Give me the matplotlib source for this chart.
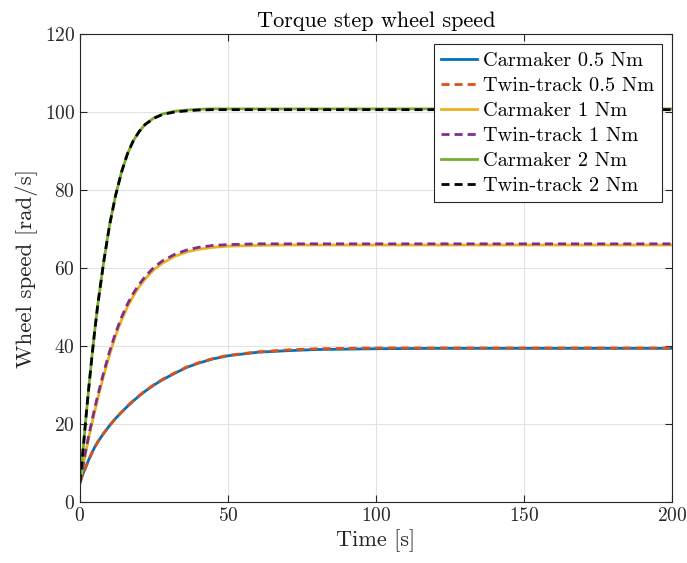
import numpy as np
import matplotlib
matplotlib.use('Agg')
import matplotlib.pyplot as plt

plt.rcParams['font.family'] = ['cmr10', 'DejaVu Serif']
plt.rcParams['mathtext.fontset'] = 'cm'
plt.rcParams['axes.formatter.use_mathtext'] = True

# sample times [s]
t = [0, 1, 2, 3, 4, 5, 6, 8, 10, 12, 14, 16, 18, 20, 22, 25, 28, 32, 36,
     40, 45, 50, 60, 70, 80, 100, 120, 150, 200]

# wheel speed [rad/s]
cm_05 = [5.0, 7.2, 9.1, 10.9, 12.6, 14.1, 15.4, 17.6, 19.6, 21.4, 23.0, 24.5,
         25.9, 27.2, 28.4, 30.0, 31.4, 33.0, 34.5, 35.6, 36.7, 37.5, 38.4,
         38.8, 39.1, 39.3, 39.4, 39.4, 39.4]
tt_05 = [5.0, 7.1, 9.0, 10.8, 12.5, 14.0, 15.4, 17.6, 19.6, 21.4, 23.0, 24.6,
         26.0, 27.3, 28.5, 30.1, 31.5, 33.1, 34.6, 35.7, 36.8, 37.6, 38.5,
         39.0, 39.3, 39.5, 39.5, 39.5, 39.5]
cm_1 = [5.0, 9.0, 13.0, 16.6, 20.0, 23.3, 26.5, 32.4, 37.8, 42.6, 46.6, 50.0,
        52.8, 55.2, 57.2, 59.6, 61.3, 63.0, 64.1, 64.8, 65.3, 65.6, 65.8,
        65.9, 65.9, 65.9, 65.9, 65.9, 65.9]
tt_1 = [5.0, 9.3, 13.4, 17.2, 20.7, 24.1, 27.3, 33.2, 38.6, 43.3, 47.3, 50.7,
        53.5, 55.8, 57.8, 60.2, 61.9, 63.5, 64.6, 65.3, 65.8, 66.0, 66.2,
        66.2, 66.2, 66.2, 66.2, 66.2, 66.2]
cm_2 = [5.0, 13.0, 21.5, 29.5, 37.0, 44.0, 50.5, 61.5, 71.0, 78.5, 84.5, 89.2,
        92.6, 95.0, 96.8, 98.5, 99.5, 100.2, 100.5, 100.7, 100.8, 100.8,
        100.8, 100.8, 100.8, 100.8, 100.8, 100.8, 100.8]
tt_2 = [5.0, 13.0, 21.5, 29.5, 37.0, 44.0, 50.5, 61.5, 71.0, 78.5, 84.5, 89.2,
        92.6, 95.0, 96.8, 98.4, 99.4, 100.0, 100.3, 100.5, 100.6, 100.6,
        100.6, 100.6, 100.6, 100.6, 100.6, 100.6, 100.6]

txt = '#262626'
fig = plt.figure(figsize=(6.87, 5.63), dpi=100)
ax = fig.add_axes([0.1164, 0.1083, 0.8617, 0.8313])

lw = 2.0
dash = (2.9, 1.8)
ax.plot(t, cm_05, color='#0072BD', lw=lw, label='Carmaker 0.5 Nm')
ax.plot(t, tt_05, color='#D95319', lw=lw, dashes=dash, label='Twin-track 0.5 Nm')
ax.plot(t, cm_1, color='#EDB120', lw=lw, label='Carmaker 1 Nm')
ax.plot(t, tt_1, color='#7E2F8E', lw=lw, dashes=dash, label='Twin-track 1 Nm')
ax.plot(t, cm_2, color='#77AC30', lw=lw, label='Carmaker 2 Nm')
ax.plot(t, tt_2, color='k', lw=lw, dashes=dash, label='Twin-track 2 Nm')

ax.set_xlim(0, 200)
ax.set_ylim(0, 120)
ax.set_xticks([0, 50, 100, 150, 200])
ax.set_yticks([0, 20, 40, 60, 80, 100, 120])
ax.grid(True, color='#e3e3e3', lw=0.8)
ax.set_axisbelow(True)
ax.tick_params(direction='in', top=True, right=True, labelsize=14,
               colors=txt, length=5, width=0.8)
for s in ax.spines.values():
    s.set_color(txt)
    s.set_linewidth(0.8)

ax.set_xlabel('Time [s]', fontsize=16, color=txt, labelpad=3)
ax.set_ylabel('Wheel speed [rad/s]', fontsize=16.5, color=txt, labelpad=5)
ax.set_title('Torque step wheel speed', fontsize=16, color='k', pad=5)

leg = ax.legend(loc='upper right', fontsize=14.7, handlelength=1.75,
                labelspacing=0.33, borderaxespad=0.5, handletextpad=0.3,
                borderpad=0.35, fancybox=False, framealpha=1)
leg.get_frame().set_edgecolor(txt)
leg.get_frame().set_linewidth(0.8)

fig.savefig('out.png', dpi=100)
